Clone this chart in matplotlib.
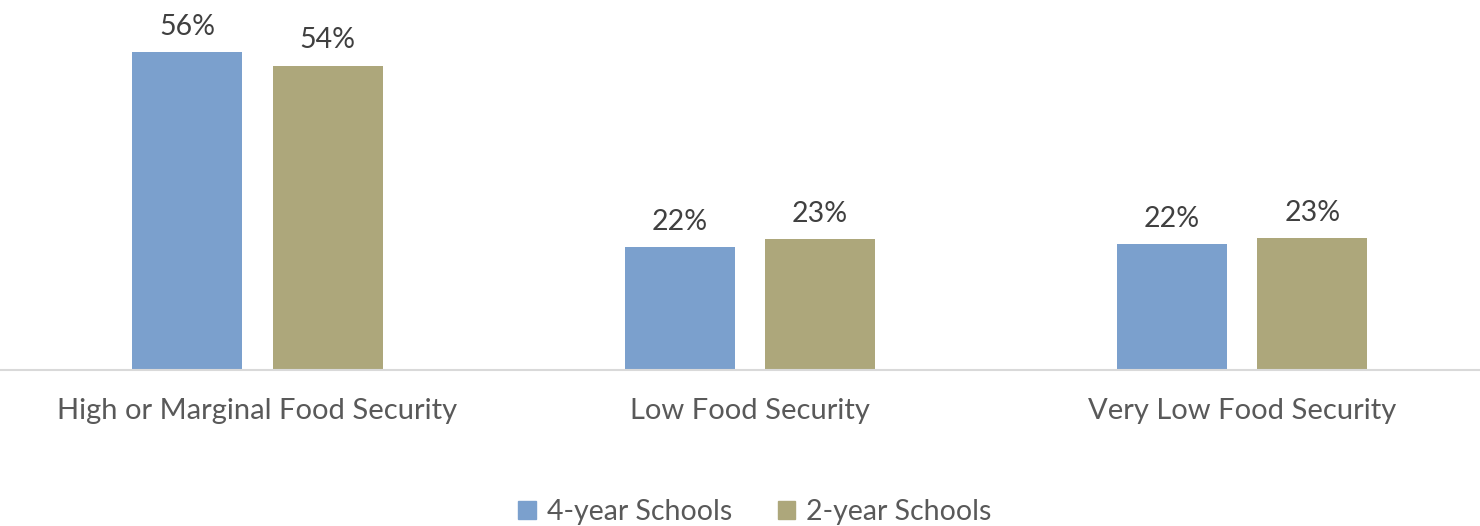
import numpy as np
import matplotlib.pyplot as plt
from matplotlib.patches import Patch

categories = ['High or Marginal Food Security', 'Low Food Security', 'Very Low Food Security']
four_year = [56.0, 21.6, 22.2]
two_year = [53.6, 23.0, 23.2]
series_names = ['4-year Schools', '2-year Schools']

blue = '#7BA0CD'
olive = '#ADA77B'

plt.rcParams['font.family'] = ['Lato', 'DejaVu Sans']

fig = plt.figure(figsize=(14.8, 5.26), dpi=100)
ax = fig.add_axes([0, 156 / 526, 1, 370 / 526])

x = np.arange(len(categories))
w = 0.2235
off = 0.1425
b1 = ax.bar(x - off, four_year, w, color=blue, label=series_names[0])
b2 = ax.bar(x + off, two_year, w, color=olive, label=series_names[1])

for bars, vals in [(b1, four_year), (b2, two_year)]:
    for rect, v in zip(bars, vals):
        ax.annotate(f'{v:.0f}%', (rect.get_x() + rect.get_width() / 2, rect.get_height()),
                    xytext=(0, 9), textcoords='offset points', ha='center', va='bottom',
                    fontsize=20.5, color='#404040')

ax.set_xlim(-0.523, 2.483)
ax.set_ylim(0, 65.2)
ax.set_yticks([])
ax.set_xticks(x)
ax.set_xticklabels(categories, fontsize=21, color='#595959')
ax.tick_params(axis='x', length=0, pad=20)
for s in ['top', 'right', 'left']:
    ax.spines[s].set_visible(False)
ax.spines['bottom'].set_color('#D9D9D9')
ax.spines['bottom'].set_linewidth(1.5)

handles = [Patch(color=blue), Patch(color=olive)]
fig.legend(handles, series_names, loc='center', bbox_to_anchor=(755 / 1480, 1 - 512 / 526),
           ncol=2, frameon=False, fontsize=20.5, handlelength=0.6, handleheight=0.6,
           handletextpad=0.4, columnspacing=1.6, labelcolor='#595959')

fig.savefig('out.png', dpi=100)
